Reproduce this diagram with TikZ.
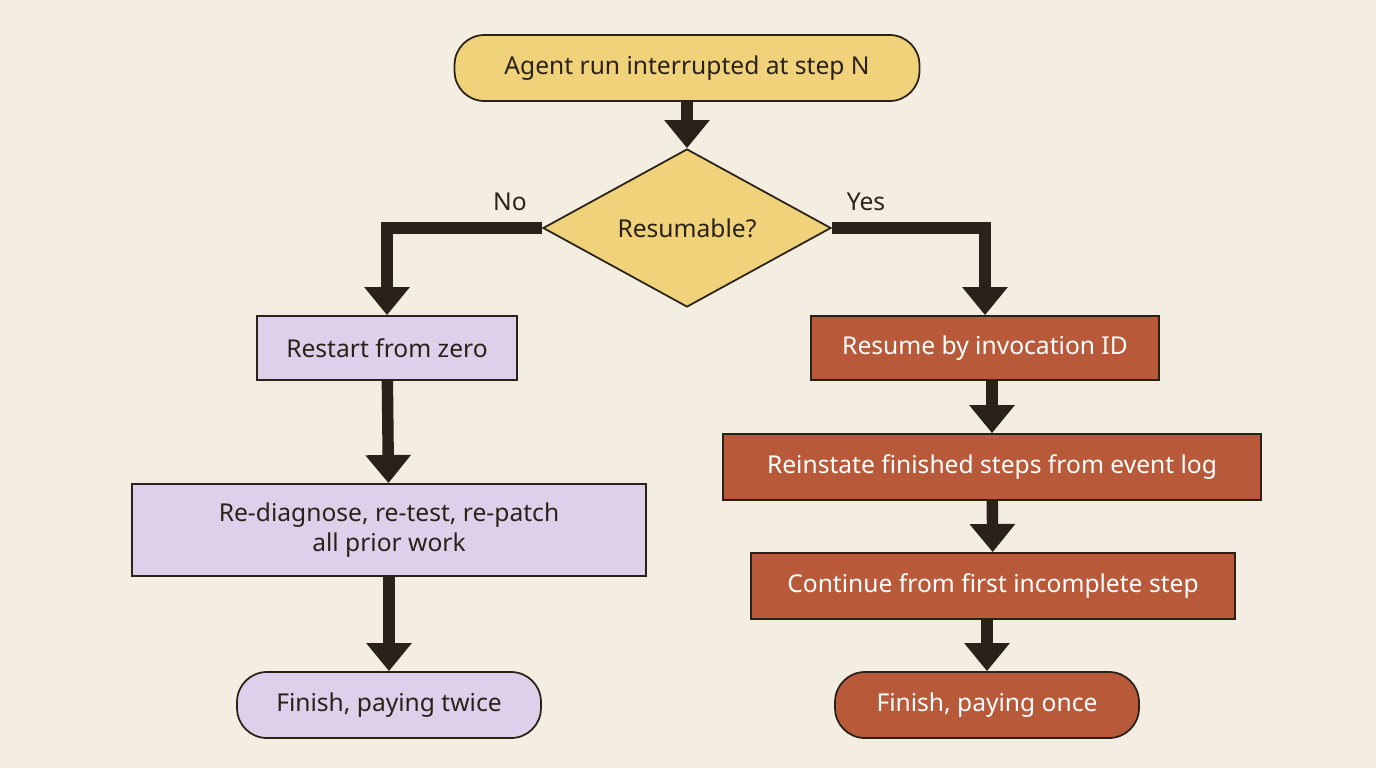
\documentclass[tikz,border=0pt]{standalone}
\usepackage{fontspec}
\setmainfont{Noto Sans}
\usetikzlibrary{arrows.meta,shapes.geometric,positioning}
\definecolor{bgcol}{HTML}{F3EEE1}
\definecolor{startcol}{HTML}{F0D27A}
\definecolor{nocol}{HTML}{DED0EA}
\definecolor{yescol}{HTML}{B85A3A}
\definecolor{linecol}{HTML}{2A2218}
\begin{document}
\begin{tikzpicture}[x=0.02cm,y=-0.02cm,
    every node/.style={font=\fontsize{14}{17}\selectfont, text=linecol, align=center, line width=1pt, draw=linecol},
    start box/.style={rounded corners=17pt, fill=startcol, minimum height=1.32cm},
    no box/.style={fill=nocol, minimum height=1.28cm},
    no end/.style={no box, rounded corners=17pt, minimum height=1.32cm},
    yes box/.style={fill=yescol, text=white, minimum height=1.32cm},
    yes end/.style={yes box, rounded corners=17pt},
    flow/.style={draw=linecol, line width=6.5pt, -{Triangle[width=25pt,length=16pt]}}]
    % Background
    \fill[bgcol] (0,0) rectangle (1376,768);
    % Draw the boxes
    \node[start box, minimum width=9.3cm] at (687,68) (start) {Agent run interrupted at step N};
    \node[diamond, fill=startcol, minimum width=5.76cm, minimum height=2.72cm, inner sep=0pt] at (687,228) (resumable) {Resumable?};
    \node[no box, minimum width=5.2cm] at (387,348) (restart) {Restart from zero};
    \node[no box, minimum width=10.28cm, minimum height=1.84cm] at (389,530) (redo) {Re-diagnose, re-test, re-patch\\all prior work};
    \node[no end, minimum width=6.08cm] at (389,705) (twice) {Finish, paying twice};
    \node[yes box, minimum width=6.96cm, minimum height=1.28cm] at (985,348) (resume) {Resume by invocation ID};
    \node[yes box, minimum width=10.76cm] at (992,467) (reinstate) {Reinstate finished steps from event log};
    \node[yes box, minimum width=9.68cm] at (993,586) (continue) {Continue from first incomplete step};
    \node[yes end, minimum width=6.08cm] at (987,705) (once) {Finish, paying once};
    % Branch labels
    \node[draw=none] at (510,202) (nolabel) {No};
    \node[draw=none] at (866,202) (yeslabel) {Yes};
    % Connect the boxes
    \draw[flow] (start) -- (resumable);
    \draw[flow] (resumable.west) -| (restart);
    \draw[flow] (resumable.east) -| (resume);
    \draw[flow] (restart) -- (redo);
    \draw[flow] (redo) -- (twice);
    \draw[flow] (resume.south -| reinstate) -- (reinstate);
    \draw[flow] (reinstate) -- (continue);
    \draw[flow] (continue.south -| once) -- (once);
\end{tikzpicture}
\end{document}
